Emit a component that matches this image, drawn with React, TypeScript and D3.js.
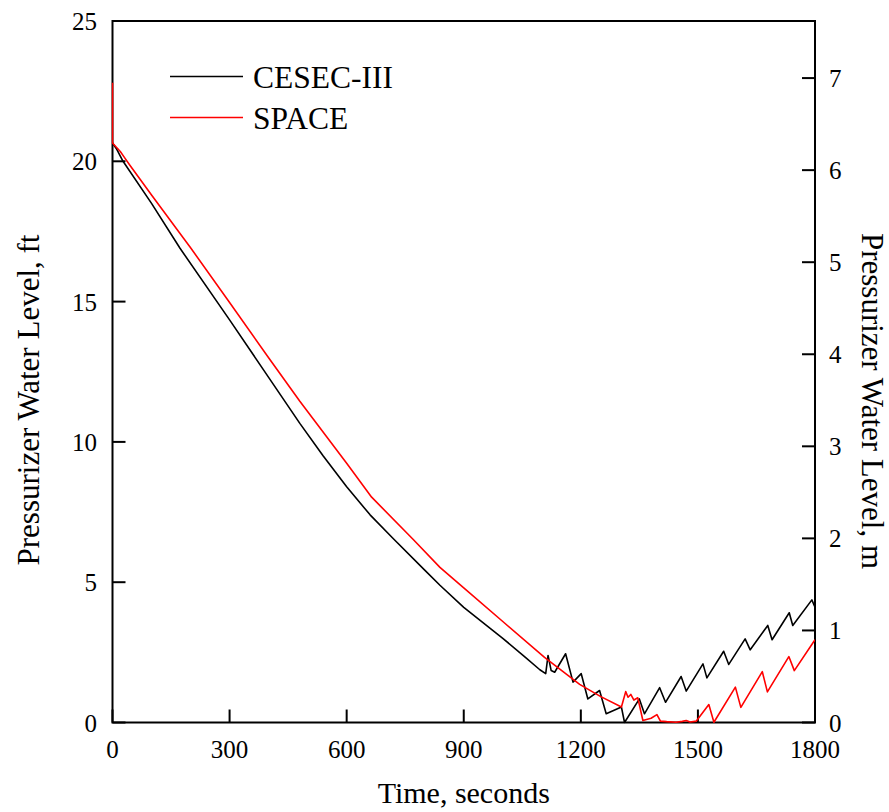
import React from "react";
import * as d3 from "d3";

const cesecTime = [0, 10, 27, 100, 173, 300, 400, 480, 540, 600, 660, 721, 800, 839, 900, 1000, 1058, 1095, 1110, 1116, 1124, 1133, 1161, 1180, 1201, 1218, 1248, 1265, 1304, 1312, 1350, 1363, 1402, 1417, 1457, 1470, 1513, 1523, 1566, 1579, 1621, 1634, 1679, 1690, 1734, 1743, 1792, 1800];
const cesecLevel = [20.65, 20.45, 20.0, 18.5, 16.9, 14.35, 12.3, 10.66, 9.5, 8.4, 7.4, 6.53, 5.43, 4.89, 4.1, 3.0, 2.32, 1.88, 1.74, 2.39, 1.85, 1.79, 2.45, 1.44, 1.74, 0.84, 1.14, 0.31, 0.55, 0, 0.84, 0.31, 1.24, 0.72, 1.64, 1.12, 2.09, 1.59, 2.54, 2.07, 2.98, 2.59, 3.46, 2.95, 3.91, 3.46, 4.37, 4.11];

const spaceTime = [0, 0, 10, 20, 30, 45, 100, 201, 300, 400, 480, 600, 664, 770, 839, 900, 1000, 1107, 1197, 1250, 1304, 1315, 1321, 1328, 1336, 1346, 1359, 1380, 1395, 1404, 1420, 1444, 1460, 1470, 1480, 1496, 1528, 1541, 1596, 1610, 1665, 1678, 1733, 1747, 1800];
const spaceLevel = [22.8, 20.65, 20.5, 20.35, 20.15, 19.85, 18.8, 16.9, 14.97, 13.0, 11.45, 9.24, 8.03, 6.53, 5.53, 4.8, 3.6, 2.32, 1.36, 0.93, 0.55, 1.1, 0.9, 1.0, 0.8, 0.88, 0.07, 0.15, 0.28, 0.05, 0.03, 0.01, 0.04, 0.07, 0.02, 0.05, 0.64, 0.01, 1.26, 0.54, 1.81, 1.09, 2.35, 1.85, 2.95];

const xTicks = [0, 300, 600, 900, 1200, 1500, 1800];
const yTicksFt = [0, 5, 10, 15, 20, 25];
const yTicksM = [0, 1, 2, 3, 4, 5, 6, 7];
const seriesNames = ["CESEC-III", "SPACE"];
const seriesColors = ["#000000", "#ff0000"];

const FT_PER_M = 3.28084;

export default function App() {
  const W = 889, H = 812;
  const left = 112.5, right = 815, top = 21, bottom = 722.5;
  const x = d3.scaleLinear().domain([0, 1800]).range([left, right]);
  const y = d3.scaleLinear().domain([0, 25]).range([bottom, top]);
  const line = d3.line<[number, number]>().x(d => x(d[0])).y(d => y(d[1]));
  const cesec = cesecTime.map((t, i) => [t, cesecLevel[i]] as [number, number]);
  const space = spaceTime.map((t, i) => [t, spaceLevel[i]] as [number, number]);
  const font = "'Liberation Serif', 'Times New Roman', serif";
  const tickLen = 13;

  return (
    <svg width={W} height={H} style={{ position: "absolute", left: 0, top: 0, background: "#fff" }} fontFamily={font}>
      <rect x={0} y={0} width={W} height={H} fill="#fff" />
      <defs>
        <clipPath id="plot">
          <rect x={left - 1} y={top} width={right - left + 1} height={bottom - top + 1} />
        </clipPath>
      </defs>
      {/* frame */}
      <rect x={left} y={top} width={right - left} height={bottom - top} fill="none" stroke="#000" strokeWidth={2} />
      {/* bottom ticks */}
      {xTicks.map(t => (
        <g key={"x" + t}>
          <line x1={x(t)} x2={x(t)} y1={bottom} y2={bottom - tickLen} stroke="#000" strokeWidth={2} />
          <text x={x(t)} y={758} fontSize={25} textAnchor="middle">{t}</text>
        </g>
      ))}
      {/* left ticks */}
      {yTicksFt.map(v => (
        <g key={"yl" + v}>
          <line x1={left} x2={left + tickLen} y1={y(v)} y2={y(v)} stroke="#000" strokeWidth={2} />
          <text x={97} y={y(v) + 9} fontSize={25} textAnchor="end">{v}</text>
        </g>
      ))}
      {/* right ticks */}
      {yTicksM.map(m => (
        <g key={"yr" + m}>
          <line x1={right} x2={right - tickLen} y1={y(m * FT_PER_M)} y2={y(m * FT_PER_M)} stroke="#000" strokeWidth={2} />
          <text x={829} y={y(m * FT_PER_M) + 9} fontSize={25} textAnchor="start">{m}</text>
        </g>
      ))}
      <g clipPath="url(#plot)">
        <path d={line(cesec) || ""} fill="none" stroke={seriesColors[0]} strokeWidth={1.6} strokeLinejoin="round" />
        <path d={line(space) || ""} fill="none" stroke={seriesColors[1]} strokeWidth={1.6} strokeLinejoin="round" />
      </g>
      {/* axis titles */}
      <text x={(left + right) / 2} y={803} fontSize={30} textAnchor="middle">Time, seconds</text>
      <text transform={`translate(39, 400) rotate(-90)`} fontSize={31} textAnchor="middle">Pressurizer Water Level, ft</text>
      <text transform={`translate(862, 401) rotate(90)`} fontSize={31} textAnchor="middle">Pressurizer Water Level, m</text>
      {/* legend */}
      {seriesNames.map((n, i) => (
        <g key={n}>
          <line x1={170} x2={243} y1={76.5 + i * 41} y2={76.5 + i * 41} stroke={seriesColors[i]} strokeWidth={1.6} />
          <text x={253} y={87.5 + i * 41} fontSize={31.5}>{n}</text>
        </g>
      ))}
    </svg>
  );
}
